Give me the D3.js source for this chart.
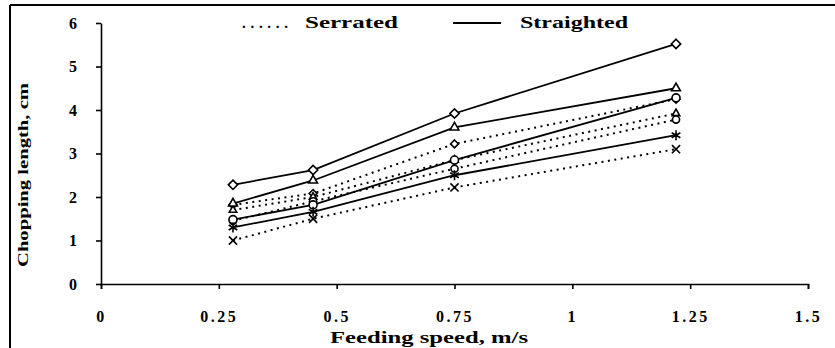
<!doctype html>
<html lang="en">
	<head>
		<meta charset="UTF-8" />
		<title>Chopping length vs feeding speed</title>
		<script src="https://d3js.org/d3.v7.min.js"></script>
		<style>
			body {
				margin: 0;
				background: #fff;
			}
			text {
				font-family: 'Liberation Serif', 'Times New Roman', serif;
				font-weight: bold;
				fill: #000;
			}
			.axis path,
			.axis line {
				stroke: #000;
				stroke-width: 1.6px;
			}
			.solid {
				fill: none;
				stroke: #000;
				stroke-width: 1.8px;
			}
			.dotted {
				fill: none;
				stroke: #000;
				stroke-width: 2px;
				stroke-dasharray: 2, 4.5;
			}
			.mark {
				fill: #fff;
				stroke: #000;
				stroke-width: 1.6px;
			}
		</style>
	</head>
	<body>
		<svg width="835" height="348"></svg>
		<script>
			// feeding speed, m/s
			const speed = [0.28, 0.45, 0.75, 1.22]

			// chopping length, cm - straight knives
			const straightDiamond = [2.28, 2.62, 3.92, 5.52]
			const straightTriangle = [1.85, 2.38, 3.6, 4.5]
			const straightCircle = [1.48, 1.82, 2.85, 4.28]
			const straightStar = [1.3, 1.66, 2.5, 3.42]

			// chopping length, cm - serrated knives
			const serratedDiamond = [1.82, 2.08, 3.22, 4.25]
			const serratedTriangle = [1.7, 2.0, 2.85, 3.92]
			const serratedCircle = [1.45, 1.9, 2.65, 3.78]
			const serratedCross = [1.0, 1.5, 2.22, 3.1]

			const xTicks = [0, 0.25, 0.5, 0.75, 1, 1.25, 1.5]
			const yTicks = [0, 1, 2, 3, 4, 5, 6]

			const series = [
				{ values: serratedDiamond, kind: 'dotted', symbol: d3.symbolDiamond2, size: 40 },
				{ values: serratedTriangle, kind: 'dotted', symbol: d3.symbolTriangle2, size: 40 },
				{ values: serratedCircle, kind: 'dotted', symbol: d3.symbolCircle, size: 40 },
				{ values: serratedCross, kind: 'dotted', symbol: d3.symbolX, size: 45 },
				{ values: straightDiamond, kind: 'solid', symbol: d3.symbolDiamond2, size: 55 },
				{ values: straightTriangle, kind: 'solid', symbol: d3.symbolTriangle2, size: 55 },
				{ values: straightCircle, kind: 'solid', symbol: d3.symbolCircle, size: 50 },
				{ values: straightStar, kind: 'solid', symbol: d3.symbolAsterisk, size: 70 }
			]

			const svg = d3.select('svg')

			// scanned page frame
			svg.append('line')
				.attr('x1', 10).attr('y1', 5).attr('x2', 835).attr('y2', 5)
				.attr('stroke', '#000').attr('stroke-width', 2)
			svg.append('line')
				.attr('x1', 10).attr('y1', 5).attr('x2', 10).attr('y2', 348)
				.attr('stroke', '#000').attr('stroke-width', 2)

			const x = d3.scaleLinear().domain([0, 1.5]).range([101, 808])
			const y = d3.scaleLinear().domain([0, 6]).range([284, 23])

			const xAxis = svg
				.append('g')
				.attr('class', 'axis')
				.attr('transform', `translate(0,${y(0)})`)
				.call(
					d3.axisBottom(x).tickValues(xTicks).tickSize(5).tickSizeOuter(5).tickPadding(22)
						.tickFormat((d) => String(d))
				)
			xAxis.selectAll('text')
				.attr('font-size', 16)
				.attr('letter-spacing', 2.5)
				.attr('font-family', null)

			const yAxis = svg
				.append('g')
				.attr('class', 'axis')
				.attr('transform', `translate(${x(0)},0)`)
				.call(
					d3.axisLeft(y).tickValues(yTicks).tickSize(5).tickSizeOuter(0).tickPadding(19)
						.tickFormat(d3.format('d'))
				)
			yAxis.selectAll('text').attr('font-size', 16).attr('font-family', null)

			// axis titles
			svg.append('text')
				.attr('x', 429)
				.attr('y', 343)
				.attr('text-anchor', 'middle')
				.attr('font-size', 16)
				.attr('textLength', 198)
				.attr('lengthAdjust', 'spacingAndGlyphs')
				.text('Feeding speed, m/s')

			svg.append('text')
				.attr('transform', 'translate(28,175) rotate(-90)')
				.attr('text-anchor', 'middle')
				.attr('font-size', 14)
				.attr('textLength', 184)
				.attr('lengthAdjust', 'spacingAndGlyphs')
				.text('Chopping length, cm')

			// lines
			const line = d3
				.line()
				.x((d, i) => x(speed[i]))
				.y((d) => y(d))

			svg.append('g')
				.selectAll('path')
				.data(series)
				.join('path')
				.attr('class', (d) => d.kind)
				.attr('d', (d) => line(d.values))

			// markers
			svg.append('g')
				.selectAll('g')
				.data(series)
				.join('g')
				.each(function (s) {
					d3.select(this)
						.selectAll('path')
						.data(s.values)
						.join('path')
						.attr('class', 'mark')
						.attr('transform', (d, i) => `translate(${x(speed[i])},${y(d)})`)
						.attr('d', d3.symbol(s.symbol, s.size))
				})

			// legend
			const legend = svg.append('g')
			legend.append('text')
				.attr('x', 242).attr('y', 28)
				.attr('font-size', 15)
				.attr('textLength', 46)
				.attr('lengthAdjust', 'spacing')
				.text('......')
			legend.append('text')
				.attr('x', 305).attr('y', 28)
				.attr('font-size', 16)
				.attr('textLength', 93)
				.attr('lengthAdjust', 'spacingAndGlyphs')
				.text('Serrated')
			legend.append('line')
				.attr('x1', 453).attr('x2', 501)
				.attr('y1', 23).attr('y2', 23)
				.attr('stroke', '#000').attr('stroke-width', 1.8)
			legend.append('text')
				.attr('x', 520).attr('y', 28)
				.attr('font-size', 16)
				.attr('textLength', 108)
				.attr('lengthAdjust', 'spacingAndGlyphs')
				.text('Straighted')
		</script>
	</body>
</html>
